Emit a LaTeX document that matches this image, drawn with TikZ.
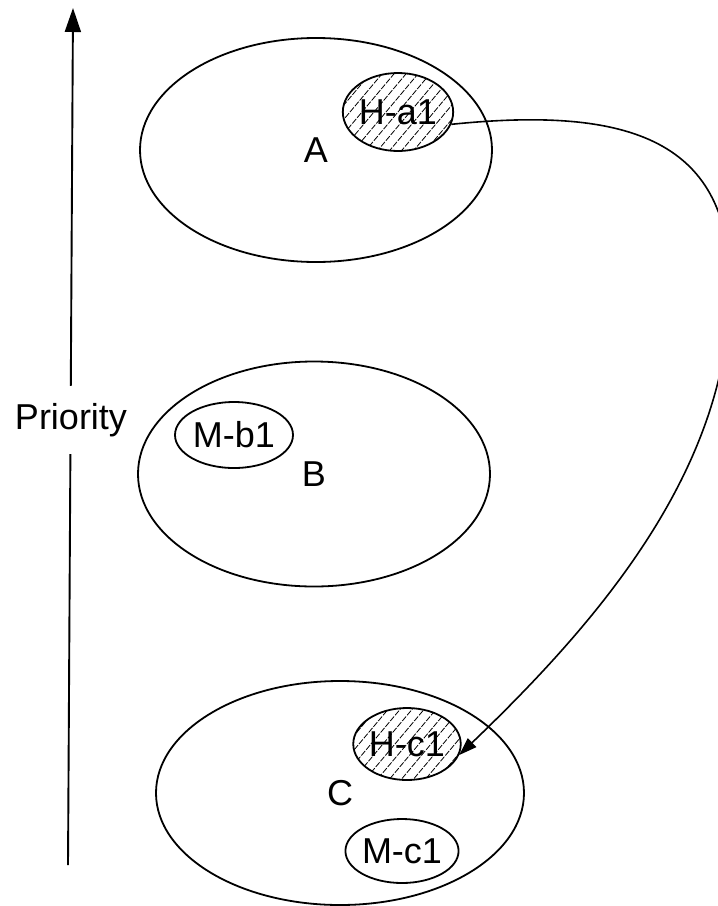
\documentclass[tikz,border=0pt]{standalone}
\usepackage{fontspec}
\setmainfont{Liberation Sans}
\usetikzlibrary{shapes.geometric,arrows.meta}

\tikzset{
  every node/.style={font=\fontsize{36pt}{42pt}\selectfont},
  outline/.style={draw, line width=1.8pt},
  bigset/.style={outline, ellipse, inner sep=0pt},
  subset/.style={outline, ellipse, inner sep=0pt, fill=white},
  hatchline/.style={line width=0.8pt, dash pattern=on 6pt off 1.5pt},
  hatched/.style={path picture={
      \foreach \k in {-9,...,9}{
        \draw[hatchline] ([shift={(\k*12pt,0pt)}]path picture bounding box.center)
          ++(230:90pt) -- ++(50:180pt);
      }}},
  link/.style={line width=1.6pt, -{Triangle[length=18pt,width=12pt]}},
  axis/.style={line width=1.9pt, -{Triangle[length=24pt,width=16pt]}},
}

\begin{document}
\begin{tikzpicture}[x=1pt, y=-1pt]
  \useasboundingbox (0,0) rectangle (718,906);

  % priority axis
  \coordinate (axisbot) at (68,865);
  \coordinate (axistop) at (73,8);
  \draw[axis] (axisbot) -- (axistop);
  \node[fill=white, inner xsep=2pt, inner ysep=17pt] (prio) at (71,420) {Priority};

  % sets
  \node[bigset, minimum width=352pt, minimum height=224pt] (A) at (316,150) {A};
  \node[bigset, minimum width=352pt, minimum height=225pt] (B) at (314,474) {B};
  \node[bigset, minimum width=368pt, minimum height=224pt] (C) at (340,793) {C};

  % members
  \node[subset, hatched, minimum width=100pt, minimum height=78pt] (ha1) at (398,112) {H-a1};
  \node[subset, minimum width=118pt, minimum height=66pt] (mb1) at (234,435) {M-b1};
  \node[subset, hatched, minimum width=102pt, minimum height=72pt] (hc1) at (407,744) {H-c1};
  \node[subset, minimum width=110pt, minimum height=64pt] (mc1) at (402,851) {M-c1};

  % move of H-a1 into C
  \draw[link] (ha1.-13) .. controls (630,106) and (732,140) .. (730,290)
                        .. controls (728,470) and (600,620) .. (hc1.-12);
\end{tikzpicture}
\end{document}
